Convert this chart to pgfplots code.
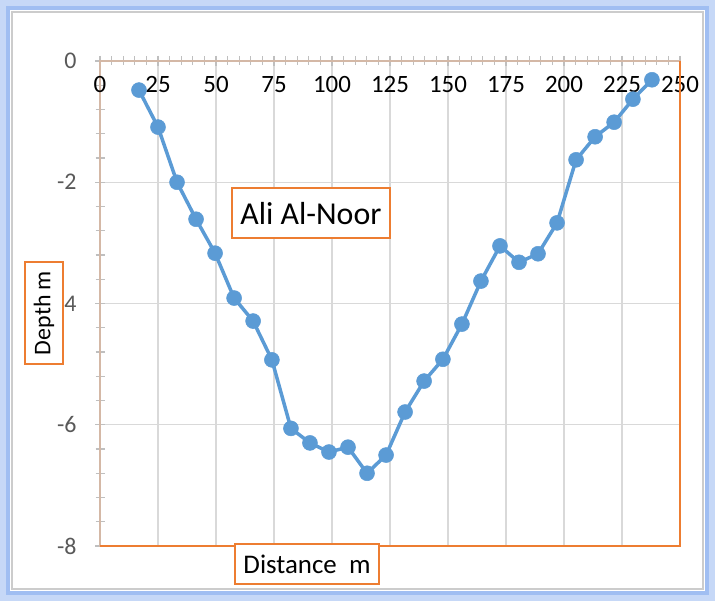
\documentclass[border=0pt]{standalone}
\usepackage{pgfplots}
\pgfplotsset{compat=1.18}
\usepackage{fontspec}
\setmainfont{Carlito}
\definecolor{lineblue}{HTML}{5B9BD5}
\definecolor{orangeb}{HTML}{ED7D31}
\definecolor{gridgray}{HTML}{D9D9D9}
\definecolor{tickgray}{HTML}{BFBFBF}
\definecolor{labgray}{HTML}{595959}
\definecolor{axtan}{HTML}{D4B8A6}
\definecolor{glow}{HTML}{A0BEF2}
\begin{document}
\begin{tikzpicture}[x=1bp,y=1bp]
\useasboundingbox (0,0) rectangle (715,601);
\fill[white] (0,0) rectangle (715,601);
\draw[glow!60, line width=10bp] (5,5) rectangle (710,596);
\draw[glow, line width=4bp] (8,8) rectangle (707,593);
\draw[gray!40, line width=1.5bp] (12,12) rectangle (703,589);
\fill[white] (13,13) rectangle (702,588);
\begin{axis}[
  at={(100bp,55bp)}, anchor=south west,
  scale only axis, width=580bp, height=485bp,
  xmin=0, xmax=250, ymin=-8, ymax=0,
  xtick={0,25,...,250}, ytick={-8,-6,...,0},
  minor x tick num=4, minor y tick num=4,
  xtick pos=upper, ytick pos=lower,
  xticklabel pos=upper,
  tick align=center,
  major tick length=10bp, minor tick length=9bp,
  tick style={tickgray, line width=1.2bp},
  grid=major, major grid style={gridgray, line width=1.2bp},
  axis line style={axtan, line width=1.8bp},
  /pgf/number format/assume math mode=true,
  xticklabel style={font=\fontsize{25}{30}\selectfont, anchor=center, yshift=-29bp, text=black},
  yticklabel style={font=\fontsize{24}{28}\selectfont, text=labgray, anchor=east, xshift=-15bp},
  clip=false,
]
\draw[orangeb, line width=2bp] (rel axis cs:0,0) -- (rel axis cs:1,0) -- (rel axis cs:1,1);
\addplot[lineblue, line width=3.5bp, mark=*, mark size=7.5bp, mark options={fill=lineblue, draw=lineblue, line width=0.5bp}] coordinates {
(16.8,-0.48) (25.0,-1.09) (33.2,-2.00) (41.4,-2.61) (49.6,-3.17) (57.8,-3.91)
(66.0,-4.29) (74.1,-4.93) (82.3,-6.06) (90.5,-6.30) (98.7,-6.45) (106.9,-6.37)
(115.1,-6.80) (123.3,-6.50) (131.5,-5.79) (139.7,-5.28) (147.8,-4.92) (156.0,-4.34)
(164.2,-3.63) (172.4,-3.05) (180.6,-3.32) (188.8,-3.18) (197.0,-2.67) (205.2,-1.63)
(213.4,-1.25) (221.6,-1.01) (229.7,-0.63) (237.9,-0.31)
};
\node[draw=orangeb, line width=2bp, fill=white, minimum width=158bp, minimum height=50bp, inner sep=0pt, font=\fontsize{32}{38}\selectfont] at (axis cs:90.9,-2.51) {Ali Al-Noor};
\end{axis}
\node[draw=orangeb, line width=2bp, fill=white, rotate=90, minimum width=102bp, minimum height=38bp, inner sep=0pt, font=\fontsize{24}{28}\selectfont] at (44,288) {Depth m};
\node[draw=orangeb, line width=2bp, fill=white, minimum width=144bp, minimum height=40bp, inner sep=0pt, font=\fontsize{27}{32}\selectfont] at (307,37) {Distance\ \ m};
\end{tikzpicture}
\end{document}
